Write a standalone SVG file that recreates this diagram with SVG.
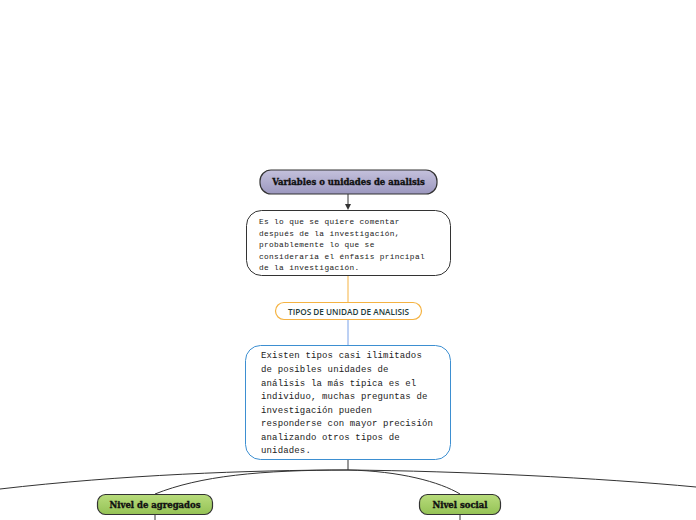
<svg xmlns="http://www.w3.org/2000/svg" width="696" height="520" viewBox="0 0 696 520">
<defs>
<linearGradient id="gPurple" x1="0" y1="0" x2="0" y2="1">
<stop offset="0" stop-color="#c4c1dc"/><stop offset="1" stop-color="#9c98bf"/>
</linearGradient>
<linearGradient id="gGreen" x1="0" y1="0" x2="0" y2="1">
<stop offset="0" stop-color="#b8dc7c"/><stop offset="1" stop-color="#94c255"/>
</linearGradient>
</defs>
<style>
.head{font-family:"DejaVu Serif",serif;font-weight:bold;font-size:8.5px;fill:#111;stroke:#111;stroke-width:0.35;}
.mono{font-family:"Liberation Mono",monospace;fill:#222;}
.conn{fill:none;stroke:#333;stroke-width:1;}
</style>
<rect width="696" height="520" fill="#fff"/>
<g id="connectors">
<line x1="348" y1="194" x2="348" y2="205" class="conn"/>
<path d="M345,204 L351,204 L348,210 Z" fill="#333"/>
<line x1="348" y1="275" x2="348" y2="302" stroke="#f5b342" stroke-width="1"/>
<line x1="348" y1="320" x2="348" y2="345" stroke="#7aa2e8" stroke-width="1"/>
<line x1="348" y1="459" x2="348" y2="470" class="conn"/>
<path d="M348,470 C250,470 120,475 0,489" class="conn"/>
<path d="M348,470 C260,470 200,476 155,494" class="conn"/>
<path d="M348,470 C400,471 440,482 460,494" class="conn"/>
<path d="M348,470 C460,471 600,478 696,487" class="conn"/>
<line x1="155" y1="514" x2="155" y2="520" class="conn"/>
<line x1="460" y1="514" x2="460" y2="520" class="conn"/>
</g>
<g id="n-variables">
<rect x="260" y="170" width="177" height="24" rx="11" fill="url(#gPurple)" stroke="#333" stroke-width="1.2"/>
<text x="348.5" y="185" text-anchor="middle" class="head">Variables o unidades de analisis</text>
</g>
<g id="n-definicion">
<rect x="246.5" y="210.5" width="204" height="65" rx="15" fill="#fff" stroke="#333" stroke-width="1"/>
<g class="mono" font-size="7.8px" letter-spacing="0.35">
<text x="259" y="224">Es lo que se quiere comentar</text>
<text x="259" y="235.5">después de la investigación,</text>
<text x="259" y="247">probablemente lo que se</text>
<text x="259" y="258.5">consideraría el énfasis principal</text>
<text x="259" y="270">de la investigación.</text>
</g>
</g>
<g id="n-tipos">
<rect x="275.5" y="302.5" width="146" height="17" rx="8.5" fill="#fff" stroke="#f5b342" stroke-width="1.2"/>
<text x="348.5" y="314.5" text-anchor="middle" font-family="'Open Sans',sans-serif" font-weight="600" font-size="8.2px" fill="#1d3b3b">TIPOS DE UNIDAD DE ANALISIS</text>
</g>
<g id="n-existen">
<rect x="245.5" y="345.5" width="205" height="114" rx="15" fill="#fff" stroke="#3d8fd1" stroke-width="1"/>
<g class="mono" font-size="9px" letter-spacing="0.15">
<text x="261" y="358">Existen tipos casi ilimitados</text>
<text x="261" y="372">de posibles unidades de</text>
<text x="261" y="385.5">análisis la más típica es el</text>
<text x="261" y="399">individuo, muchas preguntas de</text>
<text x="261" y="412.5">investigación pueden</text>
<text x="261" y="426">responderse con mayor precisión</text>
<text x="261" y="439.5">analizando otros tipos de</text>
<text x="261" y="453">unidades.</text>
</g>
</g>
<g id="n-agregados">
<rect x="97.5" y="494.5" width="115" height="20" rx="8" fill="url(#gGreen)" stroke="#333" stroke-width="1.2"/>
<text x="155" y="508" text-anchor="middle" class="head">Nivel de agregados</text>
</g>
<g id="n-social">
<rect x="419.5" y="494.5" width="81" height="20" rx="8" fill="url(#gGreen)" stroke="#333" stroke-width="1.2"/>
<text x="460" y="508" text-anchor="middle" class="head">Nivel social</text>
</g>
</svg>
